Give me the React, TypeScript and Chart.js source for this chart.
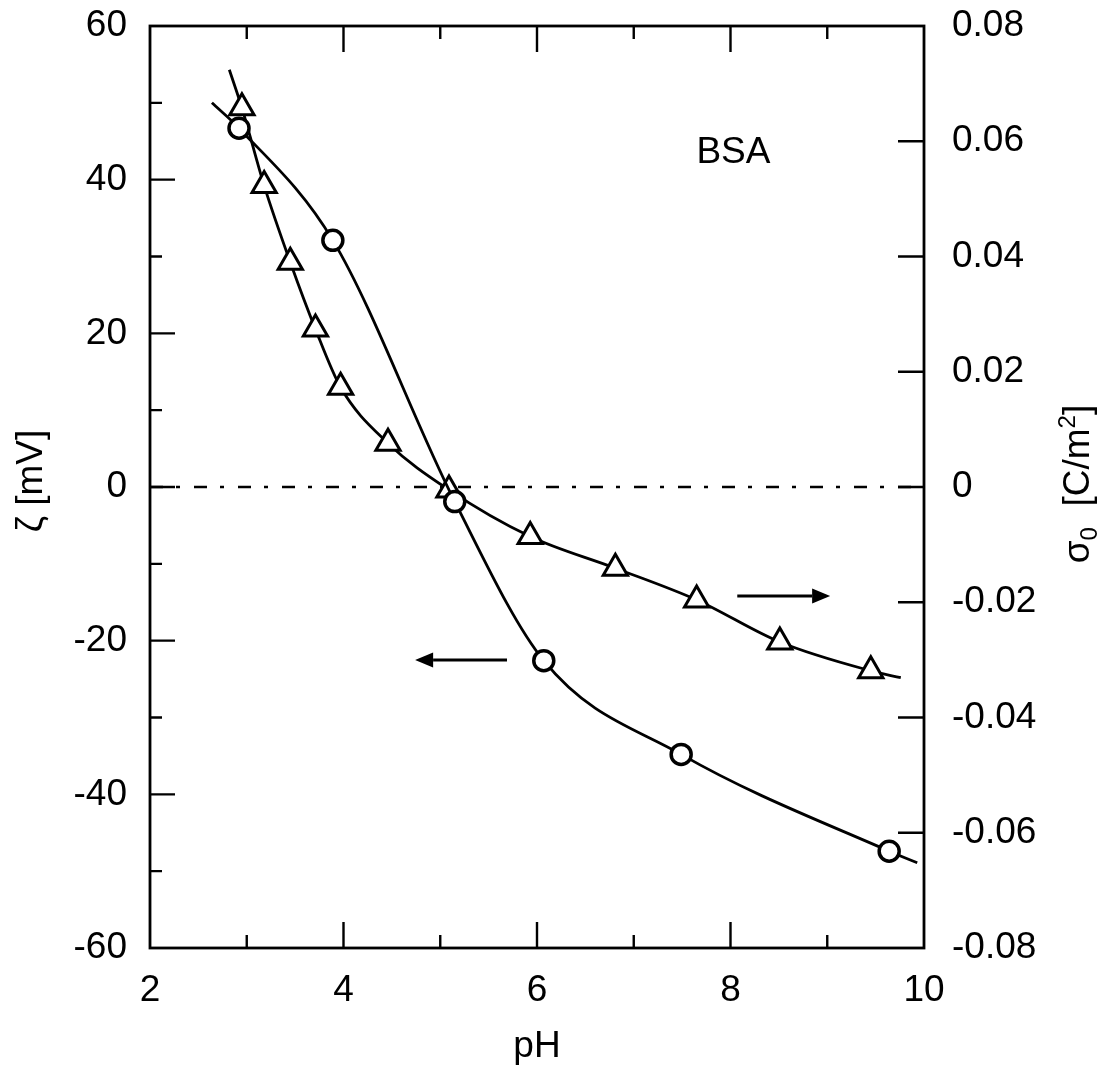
import React, { useEffect, useRef } from "react";
import { Chart, registerables } from "chart.js";

Chart.register(...registerables);

const FONT_FAMILY = "'Liberation Sans', Arial, Helvetica, sans-serif";
const FONT_SIZE = 37;

// Zeta potential (left axis, circles)
const zetaPH = [2.92, 3.89, 5.15, 6.07, 7.49, 9.64];
const zetaMV = [46.7, 32.1, -1.9, -22.6, -34.8, -47.4];
const zetaCurveStart = [2.64, 50.0];
const zetaCurveEnd = [9.93, -48.9];

// Surface charge density (right axis, triangles)
const sigmaPH = [2.95, 3.18, 3.45, 3.71, 3.97, 4.46, 5.09, 5.93, 6.81, 7.65, 8.51, 9.45];
const sigmaC = [0.0658, 0.0523, 0.039, 0.0274, 0.0173, 0.0076, -0.0005, -0.0086, -0.0141, -0.0196, -0.0269, -0.0319];
const sigmaCurveStart = [2.82, 0.0724];
const sigmaCurveEnd = [9.76, -0.0331];

// Axis ranges / ticks
const xRange = [2, 10];
const xStep = 2;
const yLeftRange = [-60, 60];
const yLeftStep = 20;
const yRightRange = [-0.08, 0.08];
const yRightStep = 0.02;

// Annotations (data coords on x / left axis)
const arrowLeft = [5.69, 4.74, -22.5]; // from x, to x, y
const arrowRight = [8.07, 9.03, -14.2];
const labelText = "BSA";
const labelPos = [8.03, 43.75];

function buildLine(start: number[], xs: number[], ys: number[], end: number[]) {
  const pts = [{ x: start[0], y: start[1] }];
  xs.forEach((x, i) => pts.push({ x, y: ys[i] }));
  pts.push({ x: end[0], y: end[1] });
  return pts;
}

const font = { family: FONT_FAMILY, size: FONT_SIZE };

const framePlugin = {
  id: "framePlugin",
  beforeDatasetsDraw(chart: any) {
    const { ctx, chartArea: a, scales } = chart;
    const y0 = scales.y.getPixelForValue(0);
    ctx.save();
    ctx.strokeStyle = "#000";
    ctx.lineWidth = 2.4;
    ctx.setLineDash([13, 13, 4, 14]);
    ctx.beginPath();
    ctx.moveTo(a.left, y0);
    ctx.lineTo(a.right, y0);
    ctx.stroke();
    ctx.restore();
  },
  afterDraw(chart: any) {
    const { ctx, chartArea: a, scales } = chart;
    const sx = scales.x, sy = scales.y, sy2 = scales.y2;
    ctx.save();
    ctx.strokeStyle = "#000";
    ctx.fillStyle = "#000";
    ctx.lineWidth = 2.8;
    ctx.strokeRect(a.left, a.top, a.right - a.left, a.bottom - a.top);
    ctx.lineWidth = 2.4;
    ctx.beginPath();
    // x ticks bottom & top
    for (let v = xRange[0] + 1; v < xRange[1]; v += 1) {
      const px = sx.getPixelForValue(v);
      const len = v % 2 === 0 ? 26 : 13;
      ctx.moveTo(px, a.bottom);
      ctx.lineTo(px, a.bottom - len);
      ctx.moveTo(px, a.top);
      ctx.lineTo(px, a.top + len);
    }
    // left ticks
    for (let v = yLeftRange[0] + 10; v < yLeftRange[1]; v += 10) {
      const py = sy.getPixelForValue(v);
      const len = v % 20 === 0 ? 25 : 12;
      ctx.moveTo(a.left, py);
      ctx.lineTo(a.left + len, py);
    }
    // right ticks
    for (let i = 1; i < 8; i++) {
      const v = yRightRange[0] + i * yRightStep;
      const py = sy2.getPixelForValue(v);
      ctx.moveTo(a.right, py);
      ctx.lineTo(a.right - 26, py);
    }
    ctx.stroke();

    // arrows
    const drawArrow = (arr: number[]) => {
      const x1 = sx.getPixelForValue(arr[0]);
      const x2 = sx.getPixelForValue(arr[1]);
      const y = sy.getPixelForValue(arr[2]);
      const dir = Math.sign(x2 - x1);
      const head = 18;
      ctx.lineWidth = 3;
      ctx.beginPath();
      ctx.moveTo(x1, y);
      ctx.lineTo(x2 - dir * head, y);
      ctx.stroke();
      ctx.beginPath();
      ctx.moveTo(x2, y);
      ctx.lineTo(x2 - dir * head, y - 7.5);
      ctx.lineTo(x2 - dir * head, y + 7.5);
      ctx.closePath();
      ctx.fill();
    };
    drawArrow(arrowLeft);
    drawArrow(arrowRight);

    // BSA label
    ctx.font = `${FONT_SIZE}px ${FONT_FAMILY}`;
    ctx.textAlign = "center";
    ctx.textBaseline = "middle";
    ctx.fillText(labelText, sx.getPixelForValue(labelPos[0]), sy.getPixelForValue(labelPos[1]) + 2);

    // x title
    ctx.fillText("pH", (a.left + a.right) / 2, 1047);

    // left title
    ctx.save();
    ctx.translate(32, 481);
    ctx.rotate(-Math.PI / 2);
    ctx.fillText("ζ [mV]", 0, 0);
    ctx.restore();

    // right title with sub/superscript
    ctx.save();
    ctx.translate(1076, 484);
    ctx.rotate(-Math.PI / 2);
    ctx.textAlign = "left";
    ctx.textBaseline = "alphabetic";
    const big = `${FONT_SIZE}px ${FONT_FAMILY}`;
    const small = `24px ${FONT_FAMILY}`;
    const parts: [string, string, number][] = [
      ["σ", big, 0],
      ["0", small, 8],
      ["  [C/m", big, 0],
      ["2", small, -14],
      ["]", big, 0],
    ];
    let total = 0;
    parts.forEach(([t, f]) => {
      ctx.font = f;
      total += ctx.measureText(t).width;
    });
    let cx = -total / 2;
    const baseY = 13;
    parts.forEach(([t, f, dy]) => {
      ctx.font = f;
      ctx.fillText(t, cx, baseY + dy);
      cx += ctx.measureText(t).width;
    });
    ctx.restore();
    ctx.restore();
  },
};

function fmtRight(v: number) {
  const r = Math.round(v * 100) / 100;
  if (r === 0) return "0";
  return r.toFixed(2);
}

function fixSize(dim: "width" | "height", size: number) {
  return (s: any) => {
    s[dim] = size;
    s.paddingTop = 0;
    s.paddingBottom = 0;
    s.paddingLeft = 0;
    s.paddingRight = 0;
  };
}

export default function App() {
  const ref = useRef<HTMLCanvasElement | null>(null);
  useEffect(() => {
    if (!ref.current) return;
    const zetaLine = buildLine(zetaCurveStart, zetaPH, zetaMV, zetaCurveEnd);
    const sigmaLine = buildLine(sigmaCurveStart, sigmaPH, sigmaC, sigmaCurveEnd);
    const radii = (n: number, r: number) => [0, ...Array(n).fill(r), 0];
    const chart = new Chart(ref.current, {
      type: "line",
      data: {
        datasets: [
          {
            label: "zeta",
            data: zetaLine,
            yAxisID: "y",
            borderColor: "#000",
            borderWidth: 2.8,
            cubicInterpolationMode: "monotone",
            pointStyle: "circle",
            pointRadius: radii(zetaPH.length, 10),
            pointBorderWidth: 3.5,
            pointBorderColor: "#000",
            pointBackgroundColor: "#fff",
            fill: false,
          },
          {
            label: "sigma",
            data: sigmaLine,
            yAxisID: "y2",
            borderColor: "#000",
            borderWidth: 2.8,
            cubicInterpolationMode: "monotone",
            pointStyle: "triangle",
            pointRadius: radii(sigmaPH.length, 14),
            pointBorderWidth: 3,
            pointBorderColor: "#000",
            pointBackgroundColor: "#fff",
            fill: false,
          },
        ],
      },
      options: {
        animation: false,
        responsive: false,
        maintainAspectRatio: false,
        layout: { padding: { top: 26, left: 0, right: 0, bottom: 0 } },
        plugins: { legend: { display: false }, tooltip: { enabled: false } },
        scales: {
          x: {
            type: "linear",
            position: "bottom",
            min: xRange[0],
            max: xRange[1],
            ticks: { stepSize: xStep, font, color: "#000", padding: 21, maxRotation: 0, callback: (v: any) => String(v) },
            grid: { display: false, drawTicks: false },
            border: { display: false },
            afterFit: fixSize("height", 120),
          },
          y: {
            type: "linear",
            position: "left",
            min: yLeftRange[0],
            max: yLeftRange[1],
            ticks: { stepSize: yLeftStep, font, color: "#000", padding: 23, callback: (v: any) => String(v) },
            grid: { display: false, drawTicks: false },
            border: { display: false },
            afterFit: fixSize("width", 150),
          },
          y2: {
            type: "linear",
            position: "right",
            min: yRightRange[0],
            max: yRightRange[1],
            ticks: { stepSize: yRightStep, font, color: "#000", padding: 28, callback: (v: any) => fmtRight(v) },
            grid: { display: false, drawTicks: false },
            border: { display: false },
            afterFit: fixSize("width", 178),
          },
        },
      },
      plugins: [framePlugin],
    } as any);
    return () => chart.destroy();
  }, []);
  return (
    <div style={{ position: "fixed", left: 0, top: 0, width: 1102, height: 1068, background: "#fff" }}>
      <canvas ref={ref} width={1102} height={1068} style={{ width: 1102, height: 1068 }} />
    </div>
  );
}
